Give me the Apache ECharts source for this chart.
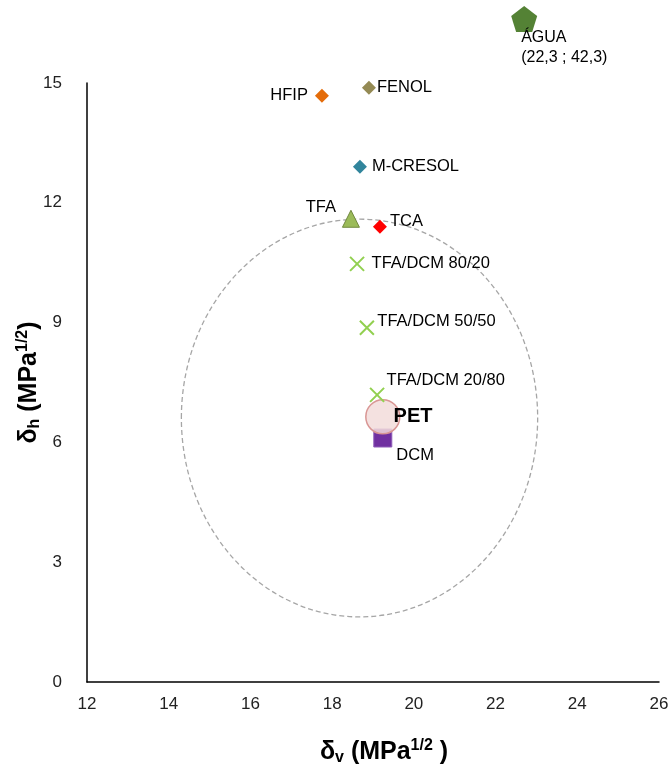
<!DOCTYPE html>
<html><head><meta charset="utf-8">
<script src="https://cdn.jsdelivr.net/npm/echarts@6/dist/echarts.min.js"></script>
<style>html,body{margin:0;padding:0;background:#fff}#c{width:670px;height:776px}</style>
</head><body><div id="c"></div>
<script>
const names = ['HFIP','FENOL','M-CRESOL','TFA','TCA','TFA/DCM 80/20','TFA/DCM 50/50','TFA/DCM 20/80','PET','DCM','ÁGUA'];
const labels = ['HFIP','FENOL','M-CRESOL','TFA','TCA','TFA/DCM 80/20','TFA/DCM 50/50','TFA/DCM 20/80','PET','DCM','ÁGUA\n(22,3 ; 42,3)'];
const dv = [17.75, 18.9, 18.68, 18.46, 19.17, 18.61, 18.85, 19.1, 19.24, 19.24, 22.7];
const dh = [14.68, 14.88, 12.9, 11.6, 11.4, 10.47, 8.87, 7.19, 6.64, 6.11, 16.6];
const sphereCenter = [18.67, 6.61];
const sphereRadii = [4.36, 4.98];
const xTicks = [12, 26, 2];
const yTicks = [0, 15, 3];

const FF = 'Liberation Sans, Arial, sans-serif';
const DIAMOND = 'path://M0,-1L1,0L0,1L-1,0Z';
const XMARK = 'path://M0,0L10,10M10,0L0,10';
const PENTA = 'path://M0,-1L0.951,-0.309L0.588,0.809L-0.588,0.809L-0.951,-0.309Z';
const styles = [
  {symbol: DIAMOND, size: 14, color: '#E46C0A', label: {position: 'left', distance: 7}},
  {symbol: DIAMOND, size: 14, color: '#948A54', label: {position: 'right', distance: 1}},
  {symbol: DIAMOND, size: 14, color: '#31859C', label: {position: 'right', distance: 5}},
  {symbol: 'triangle', size: 17, color: '#9BBB59', border: '#71893F', label: {position: 'left', distance: 0, offset: [-6, -11]}},
  {symbol: DIAMOND, size: 14, color: '#FF0000', label: {position: 'right', distance: 3, offset: [0, -5]}},
  {symbol: XMARK, size: 14, color: 'none', border: '#92D050', bw: 2, label: {position: 'right', distance: 5}},
  {symbol: XMARK, size: 14, color: 'none', border: '#92D050', bw: 2, label: {position: 'right', distance: 1, offset: [0, -6]}},
  {symbol: XMARK, size: 14, color: 'none', border: '#92D050', bw: 2, label: {position: 'right', distance: 0, offset: [0, -14]}},
  {symbol: 'circle', size: 34, color: 'rgba(242,220,219,0.85)', border: '#D99694', bw: 1.5, label: {position: 'right', distance: -7, fontWeight: 'bold', fontSize: 20}},
  {symbol: 'rect', size: 18, color: '#7030A0', border: '#8E5CB8', label: {position: 'right', distance: 4, offset: [0, 17]}},
  {symbol: PENTA, size: 26, color: '#548235', label: {position: [10, 21], align: 'left', verticalAlign: 'top', lineHeight: 20, fontSize: 16}}
];
const order = [9, 0, 1, 2, 3, 4, 5, 6, 8, 7, 10];
const pointSeries = order.map(i => {
  const s = styles[i];
  return {
    type: 'scatter', name: names[i], clip: false, z: 3,
    symbol: s.symbol, symbolSize: s.size,
    itemStyle: {color: s.color, borderColor: s.border || s.color, borderWidth: s.bw || (s.border ? 1 : 0), opacity: 1},
    label: Object.assign({show: true, formatter: labels[i], color: '#000', fontSize: 16.5, fontFamily: FF}, s.label),
    data: [[dv[i], dh[i]]]
  };
});

const rich = {
  a: {fontSize: 25, fontWeight: 'bold', color: '#000', fontFamily: FF},
  s: {fontSize: 16, fontWeight: 'bold', color: '#000', padding: [12, 0, 0, 0], fontFamily: FF},
  p: {fontSize: 16, fontWeight: 'bold', color: '#000', padding: [0, 0, 12, 0], fontFamily: FF}
};

const chart = echarts.init(document.getElementById('c'), null, {renderer: 'canvas'});
chart.setOption({
  animation: false,
  backgroundColor: '#fff',
  textStyle: {fontFamily: FF},
  grid: {left: 87, right: 11, top: 83, bottom: 94, containLabel: false, outerBoundsMode: 'none'},
  xAxis: {
    type: 'value', min: xTicks[0], max: xTicks[1], interval: xTicks[2],
    axisLine: {lineStyle: {color: '#000', width: 1.5}}, axisTick: {show: false}, splitLine: {show: false},
    axisLabel: {fontSize: 17, color: '#222', margin: 14},
    name: '{a|δ}{s|v}{a| (MPa}{p|1/2}{a| )}', nameLocation: 'middle', nameGap: 56, nameMoveOverlap: false,
    nameTextStyle: {rich: rich, padding: [0, 0, 0, 22]}
  },
  yAxis: {
    type: 'value', min: yTicks[0], max: yTicks[1], interval: yTicks[2],
    axisLine: {show: true, lineStyle: {color: '#000', width: 1.5}}, axisTick: {show: false}, splitLine: {show: false},
    axisLabel: {fontSize: 17, color: '#222', margin: 25},
    name: '{a|δ}{s|h}{a| (MPa}{p|1/2}{a|)}', nameLocation: 'middle', nameGap: 44, nameMoveOverlap: false,
    nameTextStyle: {rich: rich}
  },
  series: [{
    type: 'custom', name: 'esfera', z: 1, clip: false, silent: true,
    data: [[sphereCenter[0], sphereCenter[1], sphereRadii[0], sphereRadii[1]]],
    renderItem: function (params, api) {
      const c = api.coord([api.value(0), api.value(1)]);
      const sz = api.size([api.value(2), api.value(3)]);
      return {type: 'ellipse', shape: {cx: c[0], cy: c[1], rx: sz[0], ry: sz[1]},
        style: {fill: 'none', stroke: '#A6A6A6', lineWidth: 1.3, lineDash: [5, 3]}};
    }
  }].concat(pointSeries)
});
</script></body></html>
